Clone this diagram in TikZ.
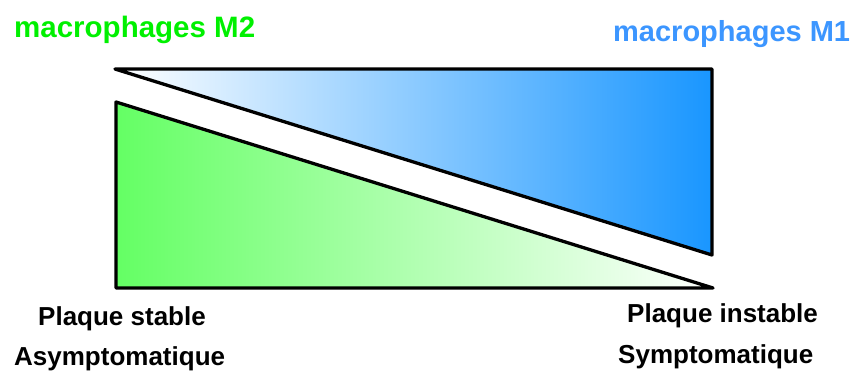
\documentclass[tikz,border=0pt]{standalone}
\usepackage{fontspec}
\setmainfont{Liberation Sans}
\definecolor{mgreen}{RGB}{0,240,0}
\definecolor{mblue}{RGB}{60,150,255}
\definecolor{fgreen}{RGB}{100,255,100}
\definecolor{fblue}{RGB}{25,150,255}
\begin{document}
\begin{tikzpicture}[x=1pt,y=-1pt,
  head/.style={anchor=base west,inner sep=0pt,font=\fontsize{29.5}{30}\selectfont\bfseries},
  lab/.style={anchor=base west,inner sep=0pt,font=\fontsize{26}{27}\selectfont\bfseries},
  edge/.style={draw=black,line width=3.3pt,line join=round}]
\useasboundingbox (0,0) rectangle (853,372);
\fill[white] (0,0) rectangle (853,372);
% upper triangle (M1)
\coordinate (u1) at (115,69);
\coordinate (u2) at (712,69);
\coordinate (u3) at (712,255);
\shade[left color=white,right color=fblue] (u1) -- (u2) -- (u3) -- cycle;
\draw[edge] (u1) -- (u2) -- (u3) -- cycle;
% lower triangle (M2)
\coordinate (l1) at (116,102);
\coordinate (l2) at (116,288);
\coordinate (l3) at (713,288);
\shade[left color=fgreen,right color=white] (l1) -- (l2) -- (l3) -- cycle;
\draw[edge] (l1) -- (l2) -- (l3) -- cycle;
% texts
\node[head,text=mgreen] (m2) at (14,37) {macrophages M2};
\node[head,text=mblue,font=\fontsize{29}{30}\selectfont\bfseries] (m1) at (613,41) {macrophages M1};
\node[lab] (ps) at (38,325) {Plaque stable};
\node[lab] (as) at (14,365) {Asymptomatique};
\node[lab] (pi) at (627,322) {Plaque instable};
\node[lab] (sy) at (618,363) {Symptomatique};
\end{tikzpicture}
\end{document}
